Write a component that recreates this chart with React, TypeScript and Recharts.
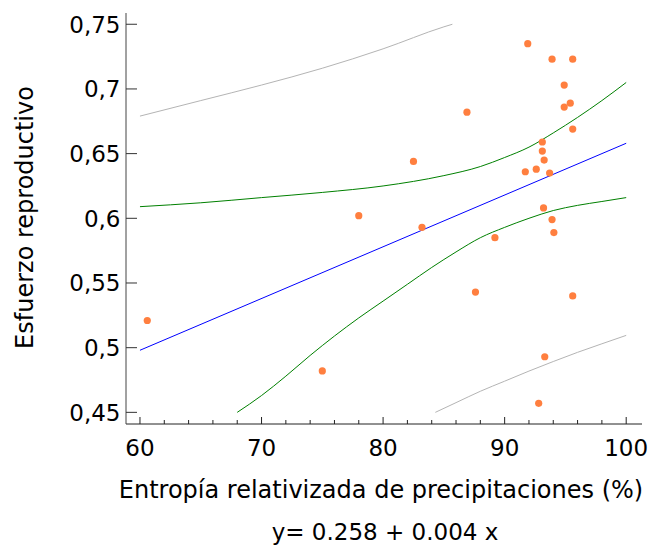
import React from 'react';
import { ComposedChart, XAxis, YAxis, Scatter, Line } from 'recharts';

// Observed sites: relativized precipitation entropy (%) vs reproductive effort
const entropia = [
  60.6, 75.0, 78.0, 82.5, 83.2, 86.9, 87.6, 89.2, 91.9, 91.7, 92.6, 92.8, 93.1, 93.1,
  93.25, 93.2, 93.3, 93.7, 93.9, 93.9, 94.05, 94.9, 94.9, 95.4, 95.6, 95.6, 95.6,
];
const esfuerzo = [
  0.521, 0.482, 0.602, 0.644, 0.593, 0.682, 0.543, 0.585, 0.735, 0.636, 0.638, 0.457, 0.659, 0.652,
  0.645, 0.608, 0.493, 0.635, 0.723, 0.599, 0.589, 0.703, 0.686, 0.689, 0.723, 0.669, 0.54,
];

// Fitted regression y = 0.258 + 0.004 x
const INTERCEPT = 0.258;
const SLOPE = 0.004;
const fitRange = [60, 100];

// Confidence band for the mean
const confUpperX = [60, 65, 70, 75, 80, 85, 88, 90, 92, 94, 96, 98, 100];
const confUpperY = [0.609, 0.612, 0.616, 0.62, 0.625, 0.633, 0.64, 0.647, 0.655, 0.666, 0.678, 0.691, 0.705];
const confLowerX = [68, 70, 72, 74, 76, 78, 80, 82, 84, 86, 88, 90, 92, 94, 96, 98, 100];
const confLowerY = [0.45, 0.463, 0.478, 0.494, 0.509, 0.523, 0.536, 0.549, 0.562, 0.574, 0.585, 0.593, 0.6, 0.606, 0.61, 0.613, 0.616];

// Prediction band
const predUpperX = [60, 65, 70, 75, 80, 85, 85.7];
const predUpperY = [0.679, 0.691, 0.703, 0.716, 0.731, 0.748, 0.75];
const predLowerX = [84.3, 86, 88, 90, 92, 94, 96, 98, 100];
const predLowerY = [0.45, 0.4575, 0.4663, 0.4741, 0.4819, 0.4893, 0.4964, 0.503, 0.5095];

// Axis ticks
const xTicks = [60, 62, 64, 66, 68, 70, 72, 74, 76, 78, 80, 82, 84, 86, 88, 90, 92, 94, 96, 98, 100];
const xLabelled = [60, 70, 80, 90, 100];
const yTicks = [0.45, 0.5, 0.55, 0.6, 0.65, 0.7, 0.75];

const xTitle = 'Entropía relativizada de precipitaciones (%)';
const yTitle = 'Esfuerzo reproductivo';
const equation = 'y= 0.258 + 0.004 x';

const FONT = '"DejaVu Sans", sans-serif';

const zip = (xs: number[], ys: number[]) => xs.map((x, i) => ({ x, y: ys[i] }));

const points = zip(entropia, esfuerzo);
const fitLine = fitRange.map((x) => ({ x, y: INTERCEPT + SLOPE * x }));
const confUpper = zip(confUpperX, confUpperY);
const confLower = zip(confLowerX, confLowerY);
const predUpper = zip(predUpperX, predUpperY);
const predLower = zip(predLowerX, predLowerY);

const XTick = (props: any) => {
  const { x, y, payload } = props;
  const v = payload.value as number;
  const major = xLabelled.includes(v);
  return (
    <g>
      <line x1={x} x2={x} y1={y} y2={y - (major ? 7 : 4)} stroke="#222" strokeWidth={1} />
      {major && (
        <text x={x} y={y + 32.4} textAnchor="middle" fontFamily={FONT} fontSize={23} fill="#000">
          {v}
        </text>
      )}
    </g>
  );
};

const YTick = (props: any) => {
  const { x, y, payload } = props;
  const v = payload.value as number;
  return (
    <g>
      <line x1={x} x2={x + 11} y1={y} y2={y} stroke="#333" strokeWidth={1} />
      <text x={x - 5.5} y={y + 8.4} textAnchor="end" fontFamily={FONT} fontSize={23} fill="#000">
        {String(v).replace('.', ',')}
      </text>
    </g>
  );
};

const XTitle = (props: any) => {
  const vb = props.viewBox;
  const cx = vb.x + vb.width / 2;
  return (
    <g>
      <text x={cx - 3} y={vb.y + 74} textAnchor="middle" fontFamily={FONT} fontSize={24} fill="#000">
        {xTitle}
      </text>
      <text x={cx + 1} y={vb.y + 116.4} textAnchor="middle" fontFamily={FONT} fontSize={23} fill="#000">
        {equation}
      </text>
    </g>
  );
};

const YTitle = (props: any) => {
  const vb = props.viewBox;
  const cy = vb.y + vb.height / 2 - 1;
  const bx = 33;
  return (
    <text
      x={bx}
      y={cy}
      transform={`rotate(-90, ${bx}, ${cy})`}
      textAnchor="middle"
      fontFamily={FONT}
      fontSize={24}
      fill="#000"
    >
      {yTitle}
    </text>
  );
};

const Dot = (props: any) => <circle cx={props.cx} cy={props.cy} r={3.6} fill="#ff7f3f" />;

export default function App() {
  return (
    <div style={{ position: 'absolute', left: 0, top: 0, background: '#fff' }}>
      <ComposedChart width={654} height={546} margin={{ top: 13, right: 12, bottom: 0, left: 0 }}>
        <XAxis
          type="number"
          dataKey="x"
          domain={[58.85, 101.3]}
          allowDataOverflow
          ticks={xTicks}
          interval={0}
          height={122}
          tickSize={0}
          tickMargin={0}
          tickLine={false}
          axisLine={{ stroke: '#222', strokeWidth: 1 }}
          tick={<XTick />}
          label={{ content: <XTitle /> }}
        />
        <YAxis
          type="number"
          dataKey="y"
          domain={[0.441, 0.7587]}
          allowDataOverflow
          ticks={yTicks}
          interval={0}
          width={126}
          tickSize={0}
          tickMargin={0}
          tickLine={false}
          axisLine={{ stroke: '#444', strokeWidth: 1 }}
          tick={<YTick />}
          label={{ content: <YTitle /> }}
        />
        <Line data={predUpper} dataKey="y" type="monotone" stroke="#b4b4b4" strokeWidth={1} dot={false} isAnimationActive={false} />
        <Line data={predLower} dataKey="y" type="monotone" stroke="#b4b4b4" strokeWidth={1} dot={false} isAnimationActive={false} />
        <Line data={confUpper} dataKey="y" type="monotone" stroke="#008000" strokeWidth={1} dot={false} isAnimationActive={false} />
        <Line data={confLower} dataKey="y" type="monotone" stroke="#008000" strokeWidth={1} dot={false} isAnimationActive={false} />
        <Line data={fitLine} dataKey="y" type="linear" stroke="#0000ff" strokeWidth={1} dot={false} isAnimationActive={false} />
        <Scatter data={points} dataKey="y" shape={<Dot />} isAnimationActive={false} />
      </ComposedChart>
    </div>
  );
}
